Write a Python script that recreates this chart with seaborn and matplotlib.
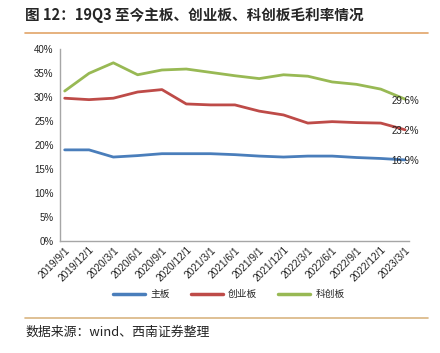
import numpy as np
import pandas as pd
import matplotlib
matplotlib.use("Agg")
from matplotlib import pyplot as plt
from matplotlib.lines import Line2D
import seaborn as sns

# Quarterly dates and gross margin (%)
dates = ["2019/9/1", "2019/12/1", "2020/3/1", "2020/6/1", "2020/9/1",
         "2020/12/1", "2021/3/1", "2021/6/1", "2021/9/1", "2021/12/1",
         "2022/3/1", "2022/6/1", "2022/9/1", "2022/12/1", "2023/3/1"]
main_board = [19.0, 19.0, 17.5, 17.8, 18.2, 18.2, 18.2, 18.0, 17.7, 17.5,
              17.7, 17.7, 17.4, 17.2, 16.9]
chinext = [29.8, 29.5, 29.8, 31.1, 31.6, 28.6, 28.4, 28.4, 27.1, 26.3,
           24.6, 24.9, 24.7, 24.6, 23.2]
star = [31.3, 35.0, 37.2, 34.7, 35.7, 35.9, 35.2, 34.5, 33.9, 34.7,
        34.4, 33.2, 32.7, 31.7, 29.6]
series_names = ["主板", "创业板", "科创板"]
colors = ["#4A7EBB", "#BE4B48", "#98B954"]

sns.set_theme(style="white")
plt.rcParams['font.family'] = ['Liberation Sans', 'Noto Sans CJK SC', 'DejaVu Sans']
cjk = ['Noto Sans CJK SC', 'DejaVu Sans']

pos = np.arange(len(dates))
df = pd.DataFrame({
    "pos": np.tile(pos, 3),
    "value": main_board + chinext + star,
    "board": np.repeat(series_names, len(dates)),
})

fig = plt.figure(figsize=(4.4, 3.53), dpi=100)
ax = fig.add_axes([0.136, 0.318, 0.7935, 0.542])
sns.lineplot(data=df, x="pos", y="value", hue="board", palette=colors,
             hue_order=series_names, linewidth=2.0, legend=False, ax=ax)

# end labels
for vals in [main_board, chinext, star]:
    ax.text(pos[-1], vals[-1] - 0.3, f"{vals[-1]:.1f}%", ha="center", va="center",
            fontsize=7, color="#222222")

ax.set_xlim(-0.2, 14.16)
ax.set_ylim(0, 40)
ax.set_yticks(np.arange(0, 41, 5))
ax.set_yticklabels([f"{v}%" for v in range(0, 41, 5)], fontsize=7)
ax.set_xticks(pos)
ax.set_xticklabels(dates, rotation=45, ha="right", rotation_mode="anchor", fontsize=7.3)
ax.set_xlabel("")
ax.set_ylabel("")
for s in ["top", "right"]:
    ax.spines[s].set_visible(False)
for s in ["left", "bottom"]:
    ax.spines[s].set_color("#A6A6A6")
    ax.spines[s].set_linewidth(1.0)
ax.tick_params(axis="both", length=2.5, color="#A6A6A6", pad=2, colors="#222222")
ax.tick_params(axis="x", direction="in", pad=3)
ax.tick_params(axis="y", direction="out")

handles = [Line2D([0], [0], color=c, lw=2.5) for c in colors]
fig.legend(handles, series_names, loc="center", bbox_to_anchor=(0.52, 0.167), ncol=3,
           frameon=False, handlelength=3.3, columnspacing=2.2, handletextpad=0.5,
           prop={"family": cjk, "size": 7})

fig.text(0.057, 0.957, "图 12：19Q3 至今主板、创业板、科创板毛利率情况", fontsize=10.5,
         fontweight="bold", family=cjk, va="center", ha="left")
fig.add_artist(Line2D([0.057, 0.973], [0.906, 0.906], color="#E2A468", lw=1.2))
fig.add_artist(Line2D([0.057, 0.973], [0.1, 0.1], color="#D9B581", lw=1.2))
fig.text(0.057, 0.06, "数据来源：wind、西南证券整理", fontsize=9.3, family=cjk,
         style="italic", va="center", ha="left", color="#222222")

fig.savefig("out.png", dpi=100)
